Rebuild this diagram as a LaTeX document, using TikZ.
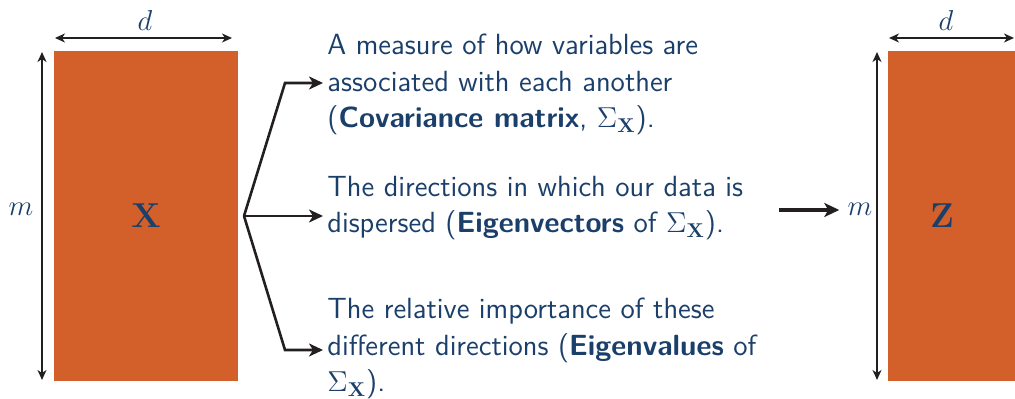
\documentclass[tikz,border=0pt]{standalone}
\usepackage{tikz}
\usetikzlibrary{calc,positioning,arrows.meta}
\usepackage{xcolor}
\definecolor{pcaOrange}{HTML}{D3602A}
\definecolor{pcaNavy}{HTML}{1B3F6B}
\definecolor{pcaInk}{HTML}{231F20}
\tikzset{
  mat/.style     = {fill=pcaOrange, inner sep=0, outer sep=0, text=pcaNavy,
                    font=\fontsize{16.5}{18}\selectfont},
  dim/.style     = {line width=0.75pt, color=pcaInk,
                    arrows={Stealth[length=5pt,width=4.5pt,inset=1.5pt]-Stealth[length=5pt,width=4.5pt,inset=1.5pt]}},
  branch/.style  = {line width=1.3pt, color=pcaInk, line join=miter,
                    arrows={-Stealth[length=7pt,width=6.5pt,inset=2pt]}},
  reduce/.style  = {line width=1.7pt, color=pcaInk,
                    arrows={-Stealth[length=7.5pt,width=7pt,inset=2pt]}},
  dimlbl/.style  = {text=pcaNavy, inner sep=0, font=\fontsize{13.5}{16}\selectfont},
  % base of a multi-line node is the baseline of its last line
  expl/.style    = {anchor=base west, align=left, inner sep=0, text=pcaNavy,
                    font=\sffamily\fontsize{14.6}{18.4}\selectfont},
}
\newcommand{\SX}{$\Sigma_{\mathbf{X}}$}

\begin{document}
\begin{tikzpicture}[x=0.5pt, y=-0.5pt]
\useasboundingbox (0,0) rectangle (1015,399);

% ================= the data matrix X ===================
\node[mat, minimum width=92pt, minimum height=165pt] (X) at (146,216) {$\mathbf{X}$};
\draw[dim] ($(X.north west)+(1,-13)$) -- ($(X.north east)+(-6,-13)$);
\draw[dim] ($(X.north west)+(-12,1)$) -- ($(X.south west)+(-12,-1)$);
\node[dimlbl] (dX) at (145,21) {$d$};
\node[dimlbl] (mX) at (21,209) {$m$};

% ================= what we compute from it ===============
\node[expl] (t1) at (327,128)
  {A measure of how variables are\\
   associated with each another\\
   (\textbf{Covariance matrix}, \SX).};
\node[expl] (t2) at (327,233)
  {The directions in which our data is\\
   dispersed (\textbf{Eigenvectors} of \SX).};
\node[expl] (t3) at (327,392)
  {The relative importance of these\\
   different directions (\textbf{Eigenvalues} of\\
   \SX).};

\coordinate (fork) at ($(X.east)+(6,0)$);
\coordinate (tip1) at (323,83);
\coordinate (tip2) at (323,216);
\coordinate (tip3) at (323,350);
\draw[branch] (fork) -- (285,83) -- (tip1);
\draw[branch] (fork) -- (tip2);
\draw[branch] (fork) -- (285,350) -- (tip3);

% ================= the reduced matrix Z ==================
\node[mat, minimum width=63.5pt, minimum height=165pt] (Z) at (951.5,216) {};
\node[mat, fill=none] (Zl) at (942,216) {$\mathbf{Z}$};
\draw[dim] ($(Z.north west)+(1,-13)$) -- ($(Z.north east)+(-1,-13)$);
\draw[dim] ($(Z.north west)+(-11,1)$) -- ($(Z.south west)+(-11,-1)$);
\node[dimlbl] (dZ) at (946,21) {$d$};
\node[dimlbl] (mZ) at (860,209) {$m$};

\coordinate (from) at (779,210);
\draw[reduce] (from) -- ([xshift=-4pt]from -| mZ.west);

\end{tikzpicture}
\end{document}
